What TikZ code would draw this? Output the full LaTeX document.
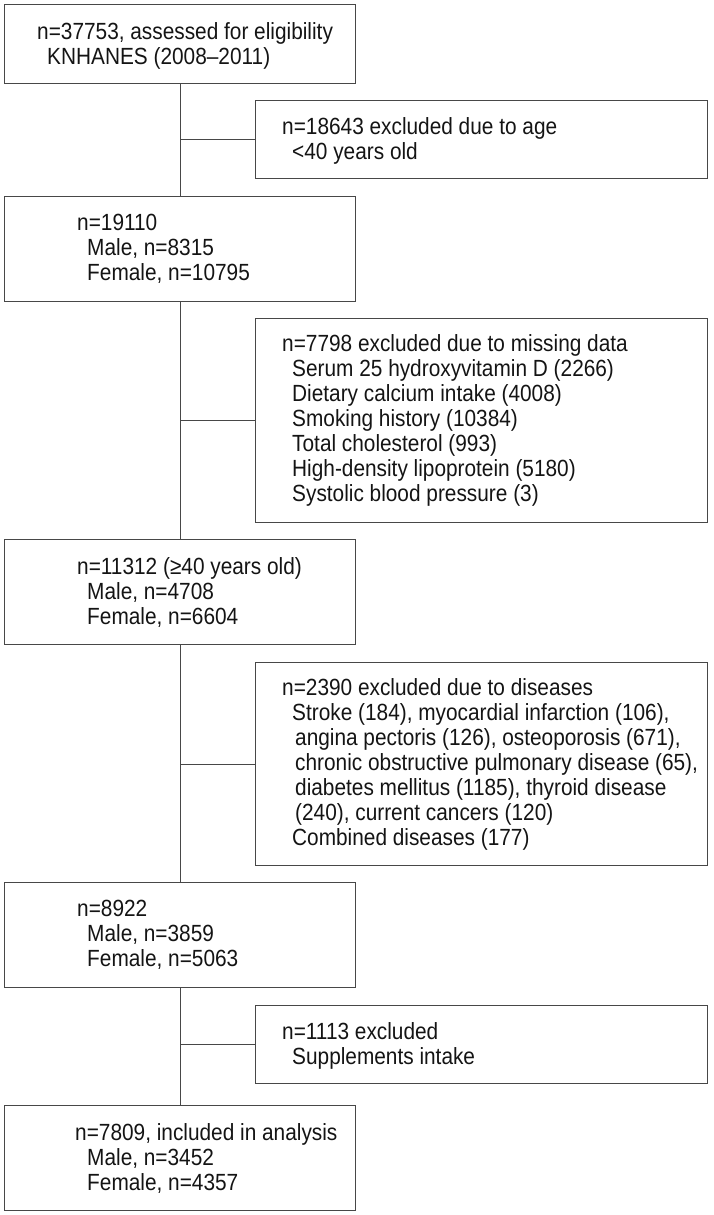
\documentclass[tikz,border=0pt]{standalone}
\usepackage{fontspec}
\setmainfont{Liberation Sans}[FakeStretch=0.89]
\begin{document}
\begin{tikzpicture}[x=1pt,y=-1pt,
  boxst/.style={draw=black!72, line width=1.2pt, inner sep=0pt, anchor=north west},
  leftbox/.style={boxst, minimum width=351pt},
  rightbox/.style={boxst, minimum width=452pt},
  txt/.style={inner sep=0pt, anchor=west, align=left, text=black!92,
    font=\fontsize{23.4pt}{25pt}\selectfont},
  link/.style={draw=black!72, line width=1.2pt}]
\useasboundingbox (0,0) rectangle (713,1215);
% boxes
\node[leftbox, minimum height=79pt] (b1) at (4,4) {};
\node[rightbox, minimum height=78pt] (b2) at (255,100) {};
\node[leftbox, minimum height=105pt] (b3) at (4,196) {};
\node[rightbox, minimum height=204pt] (b4) at (255,318) {};
\node[leftbox, minimum height=105pt] (b5) at (4,539) {};
\node[rightbox, minimum height=203pt] (b6) at (255,662) {};
\node[leftbox, minimum height=105pt] (b7) at (4,882) {};
\node[rightbox, minimum height=78pt] (b8) at (255,1005) {};
\node[leftbox, minimum height=105pt] (b9) at (4,1105) {};
% texts
\node[txt] (t1) at ([xshift=33pt,yshift=-2pt]b1.west)
  {n=37753, assessed for eligibility\\\hspace*{10pt}KNHANES (2008–2011)};
\node[txt] (t2) at ([xshift=27pt,yshift=-1.5pt]b2.west)
  {n=18643 excluded due to age\\\hspace*{10pt}<40 years old};
\node[txt] (t3) at ([xshift=73pt,yshift=0pt]b3.west)
  {n=19110\\\hspace*{10pt}Male, n=8315\\\hspace*{10pt}Female, n=10795};
\node[txt] (t4) at ([xshift=27pt,yshift=0pt]b4.west)
  {n=7798 excluded due to missing data\\
   \hspace*{10pt}Serum 25 hydroxyvitamin D (2266)\\
   \hspace*{10pt}Dietary calcium intake (4008)\\
   \hspace*{10pt}Smoking history (10384)\\
   \hspace*{10pt}Total cholesterol (993)\\
   \hspace*{10pt}High-density lipoprotein (5180)\\
   \hspace*{10pt}Systolic blood pressure (3)};
\node[txt] (t5) at ([xshift=73pt,yshift=0pt]b5.west)
  {n=11312 (≥40 years old)\\\hspace*{10pt}Male, n=4708\\\hspace*{10pt}Female, n=6604};
\node[txt] (t6) at ([xshift=27pt,yshift=0pt]b6.west)
  {n=2390 excluded due to diseases\\
   \hspace*{10pt}Stroke (184), myocardial infarction (106),\\
   \hspace*{13pt}angina pectoris (126), osteoporosis (671),\\
   \hspace*{13pt}chronic obstructive pulmonary disease (65),\\
   \hspace*{13pt}diabetes mellitus (1185), thyroid disease\\
   \hspace*{13pt}(240), current cancers (120)\\
   \hspace*{10pt}Combined diseases (177)};
\node[txt] (t7) at ([xshift=73pt,yshift=0pt]b7.west)
  {n=8922\\\hspace*{10pt}Male, n=3859\\\hspace*{10pt}Female, n=5063};
\node[txt] (t8) at ([xshift=27pt,yshift=-1.5pt]b8.west)
  {n=1113 excluded\\\hspace*{10pt}Supplements intake};
\node[txt] (t9) at ([xshift=71pt,yshift=0pt]b9.west)
  {n=7809, included in analysis\\\hspace*{12pt}Male, n=3452\\\hspace*{12pt}Female, n=4357};
% trunk
\draw[link] (b1.south) -- (b3.north);
\draw[link] (b3.south) -- (b5.north);
\draw[link] (b5.south) -- (b7.north);
\draw[link] (b7.south) -- (b9.north);
% branches
\draw[link] (b2.west -| b1.south) -- (b2.west);
\draw[link] (b4.west -| b1.south) -- (b4.west);
\draw[link] (b6.west -| b1.south) -- (b6.west);
\draw[link] (b8.west -| b1.south) -- (b8.west);
\end{tikzpicture}
\end{document}
